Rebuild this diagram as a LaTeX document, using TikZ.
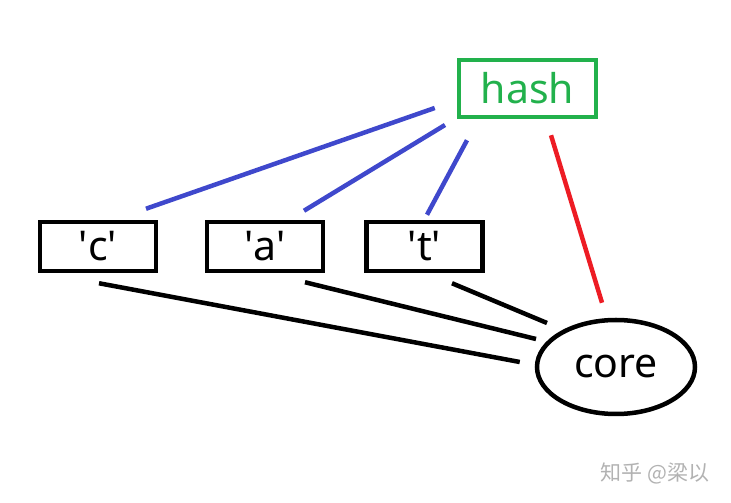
\documentclass[tikz,border=0pt]{standalone}
\usepackage{fontspec}
\setmainfont{Noto Sans}
\newfontfamily\cjk{Noto Sans CJK SC}
\usepackage{xcolor}
\usetikzlibrary{positioning,calc,shapes.geometric}
\definecolor{pgreen}{HTML}{22B14C}
\definecolor{pblue}{HTML}{3F48CC}
\definecolor{pred}{HTML}{ED1C24}
\newcommand{\sq}{\textquotesingle}

\begin{document}
\begin{tikzpicture}[x=1pt, y=1pt,
  box/.style={draw, line width=4.5pt, inner sep=0pt, font=\fontsize{41}{41}\selectfont},
  chbox/.style={box, minimum width=116pt, minimum height=49pt},
  bl/.style={pblue, line width=4.5pt},
  rl/.style={pred, line width=4.5pt},
  kl/.style={black, line width=4.5pt}]
\useasboundingbox (0,0) rectangle (731,503);
\node[box, draw=pgreen, text=pgreen, minimum width=137pt, minimum height=57pt] (hash) at (527.5,414.5) {hash};
\node[chbox] (chc) at (98,256.5) {\sq c\sq};
\node[chbox] (cha) at (265,256.5) {\sq a\sq};
\node[chbox] (cht) at (424.5,256.5) {\sq t\sq};
\node[box, ellipse, minimum width=158pt, minimum height=94pt] (core) at (616,136) {core};
% hash to characters
\draw[bl] ($(hash.west)+(-22,-19.5)$) -- ($(chc.north)+(48,11)$);
\draw[bl] ($(hash.center)+(-82.5,-36.5)$) -- ($(cha.north)+(39,9)$);
\draw[bl] ($(hash.south)+(-60.5,-21)$) -- ($(cht.north)+(2.5,5)$);
\draw[rl] ($(hash.south)+(23.5,-16)$) -- ($(core.north)+(-14,15)$);
% characters to core
\draw[kl] ($(chc.south)+(1,-10)$) -- ($(core.west)+(-15,5)$);
\draw[kl] ($(cha.south)+(40,-9)$) -- ($(core.center)+(-80,28)$);
\draw[kl] ($(cht.south)+(27.5,-10)$) -- ($(core.center)+(-69,44)$);
\node[text=black!30, font=\cjk\fontsize{21}{21}\selectfont, inner sep=0pt] (mark) at (655,30) {知乎 @梁以};
\end{tikzpicture}
\end{document}
